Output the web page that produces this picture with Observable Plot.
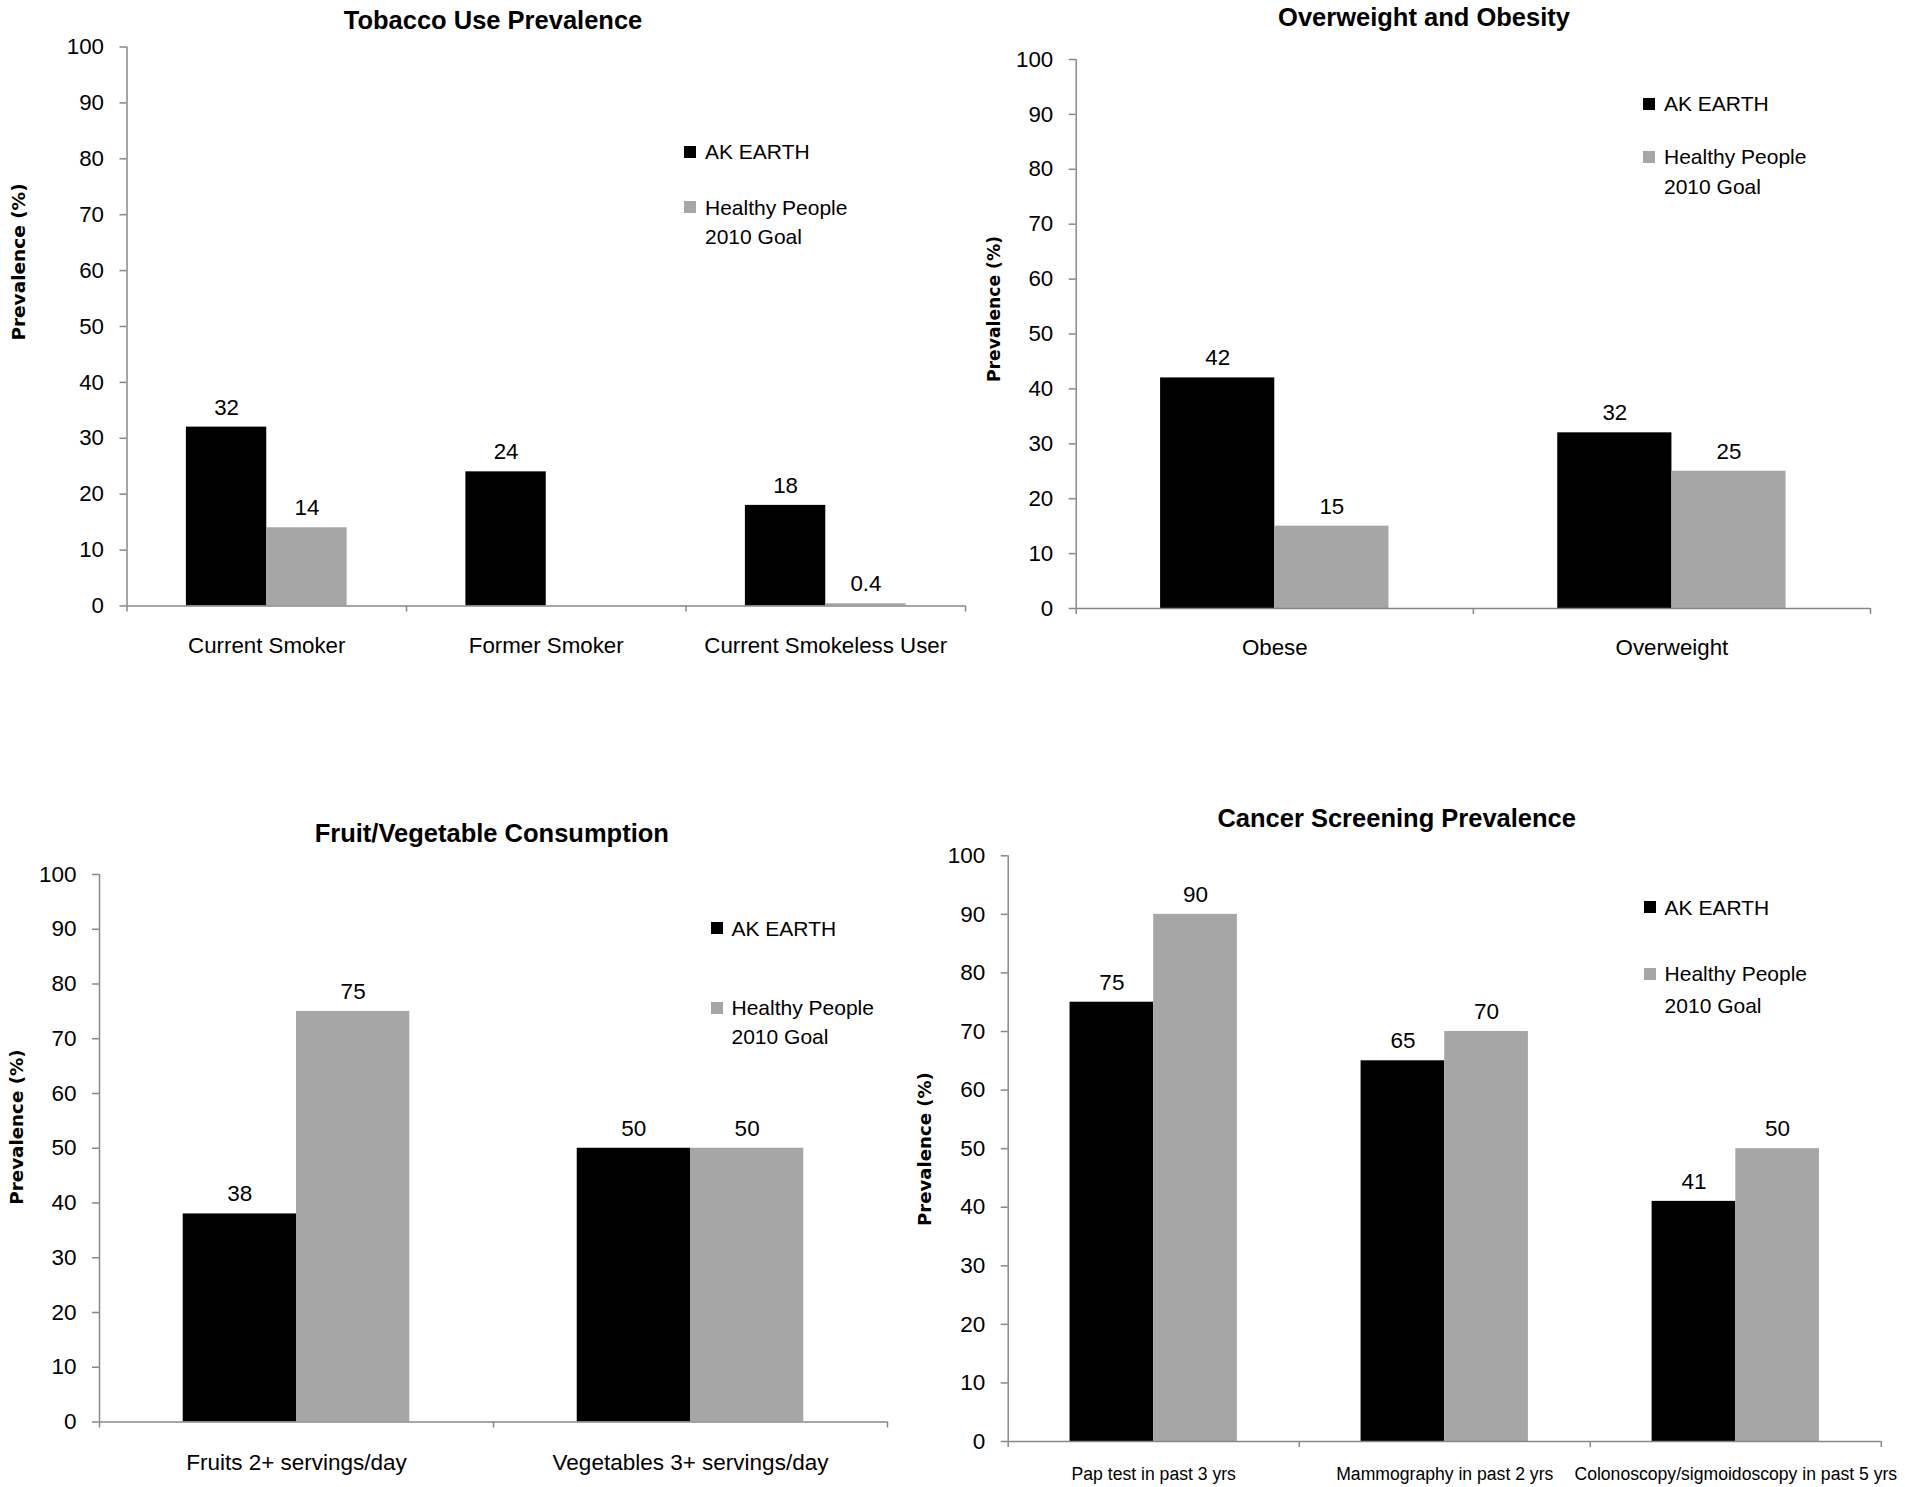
<!DOCTYPE html>
<html><head><meta charset="utf-8">
<script src="https://cdn.jsdelivr.net/npm/d3@7"></script>
<script src="https://cdn.jsdelivr.net/npm/@observablehq/plot@0.6"></script>
<style>
html,body{margin:0;padding:0;background:#fff;}
#root{position:relative;width:1905px;height:1487px;overflow:hidden;font-family:"Liberation Sans",Arial,sans-serif;color:#000;background:#fff;}
.abs{position:absolute;white-space:nowrap;line-height:1;}
.title{font-weight:bold;font-size:25.5px;}
.ylab{font-family:"DejaVu Sans",sans-serif;font-weight:bold;transform:translate(-50%,-50%) rotate(-90deg);}
.leg{font-size:21px;}
.sw{position:absolute;width:12px;height:12px;}
svg{overflow:visible;}
</style></head><body><div id="root"></div>
<script>
// ---- data ----
const seriesNames = ["AK EARTH", "Healthy People 2010 Goal"];
const seriesColors = ["#000000", "#a6a6a6"];
const yTicks = [0, 10, 20, 30, 40, 50, 60, 70, 80, 90, 100];
const yLabel = "Prevalence (%)";

const tobaccoTitle = "Tobacco Use Prevalence";
const tobaccoCategories = ["Current Smoker", "Former Smoker", "Current Smokeless User"];
const tobaccoAkEarth = [32, 24, 18];
const tobaccoGoal = [14, null, 0.4];

const obesityTitle = "Overweight and Obesity";
const obesityCategories = ["Obese", "Overweight"];
const obesityAkEarth = [42, 32];
const obesityGoal = [15, 25];

const fruitTitle = "Fruit/Vegetable Consumption";
const fruitCategories = ["Fruits 2+ servings/day", "Vegetables 3+ servings/day"];
const fruitAkEarth = [38, 50];
const fruitGoal = [75, 50];

const cancerTitle = "Cancer Screening Prevalence";
const cancerCategories = ["Pap test in past 3 yrs", "Mammography in past 2 yrs", "Colonoscopy/sigmoidoscopy in past 5 yrs"];
const cancerAkEarth = [75, 65, 41];
const cancerGoal = [90, 70, 50];

// ---- layout ----
const root = document.getElementById("root");
const axisColor = "#888888";
const GROUP = 0.575; // share of each category band filled by the two bars

function addDiv(cls, text, css) {
  const d = document.createElement("div");
  d.className = "abs " + cls;
  d.textContent = text;
  Object.assign(d.style, css);
  root.appendChild(d);
  return d;
}

function panel(cfg) {
  const {title, cats, ak, goal, left, top, width, height, mL, mR, mT, mB, catPad, catSize, fs,
         titleX, titleBase, ylx, yly, ylSize, legX, legB1, legB2, legB3} = cfg;
  const rows = [];
  cats.forEach((c, i) => {
    rows.push({cat: c, i, s: 0, value: ak[i]});
    if (goal[i] != null) rows.push({cat: c, i, s: 1, value: goal[i]});
  });
  const half = GROUP / 2;
  const bx1 = d => d.i + 0.5 - half + d.s * half;
  const bx2 = d => bx1(d) + half;
  const plot = Plot.plot({
    width, height,
    marginLeft: mL, marginRight: mR, marginTop: mT, marginBottom: mB,
    style: {background: "transparent", overflow: "visible", fontFamily: "'Liberation Sans', Arial, sans-serif", color: "#000", maxWidth: "none"},
    x: {type: "linear", domain: [0, cats.length], axis: null},
    y: {domain: [0, 100], axis: null},
    color: {domain: seriesNames, range: seriesColors},
    marks: [
      Plot.rect(rows, {x1: bx1, x2: bx2, y1: () => 0, y2: "value", fill: d => seriesNames[d.s]}),
      Plot.ruleY([0], {stroke: axisColor, strokeWidth: 1.5}),
      Plot.ruleX([0], {stroke: axisColor, strokeWidth: 1.5}),
      Plot.axisY({ticks: yTicks, tickSize: 7, tickPadding: 16, stroke: axisColor, strokeWidth: 1.5, fill: "#000", fontSize: fs, label: null}),
      Plot.axisX({ticks: d3.range(cats.length + 1), tickSize: 6, tickFormat: () => "", stroke: axisColor, strokeWidth: 1.5, label: null}),
      Plot.axisX({ticks: cats.map((_, i) => i + 0.5), tickFormat: d => cats[Math.floor(d)], tickSize: 0, tickPadding: catPad, fill: "#000", fontSize: catSize, label: null}),
      Plot.text(rows, {x: d => (bx1(d) + bx2(d)) / 2, y: "value", text: d => String(d.value), lineAnchor: "bottom", dy: -12.5, fontSize: fs, fill: "#000"})
    ]
  });
  plot.style.position = "absolute";
  plot.style.left = left + "px";
  plot.style.top = top + "px";
  root.appendChild(plot);

  // title (HTML text, baseline at 0.8465em from top with line-height 1)
  addDiv("title", title, {left: (titleX - 300) + "px", top: (titleBase - 0.8465 * 25.5) + "px", width: "600px", textAlign: "center"});
  // y axis label
  addDiv("ylab", yLabel, {left: ylx + "px", top: yly + "px", fontSize: ylSize + "px"});
  // legend
  const lt = 0.8465 * 21;
  const sq = (color, base) => {
    const s = document.createElement("div");
    s.className = "sw";
    Object.assign(s.style, {left: legX + "px", top: (base - 7.5 - 6) + "px", background: color});
    root.appendChild(s);
  };
  sq(seriesColors[0], legB1);
  addDiv("leg", "AK EARTH", {left: (legX + 21) + "px", top: (legB1 - lt) + "px"});
  sq(seriesColors[1], legB2);
  addDiv("leg", "Healthy People", {left: (legX + 21) + "px", top: (legB2 - lt) + "px"});
  addDiv("leg", "2010 Goal", {left: (legX + 21) + "px", top: (legB3 - lt) + "px"});
}

panel({title: tobaccoTitle, cats: tobaccoCategories, ak: tobaccoAkEarth, goal: tobaccoGoal,
  left: 0, top: 0, width: 980, height: 700, mL: 126.5, mR: 15, mT: 46.5, mB: 94.5,
  catPad: 31, catSize: 22.3, fs: 22.3, titleX: 493, titleBase: 30,
  ylx: 18.5, yly: 262, ylSize: 18.5, legX: 684, legB1: 159, legB2: 214.5, legB3: 243.5});

panel({title: obesityTitle, cats: obesityCategories, ak: obesityAkEarth, goal: obesityGoal,
  left: 960, top: 0, width: 945, height: 700, mL: 115.7, mR: 35, mT: 59, mB: 92,
  catPad: 30.5, catSize: 22.3, fs: 22.3, titleX: 1424, titleBase: 27,
  ylx: 995, yly: 309, ylSize: 17.2, legX: 1643, legB1: 111, legB2: 164, legB3: 193.5});

panel({title: fruitTitle, cats: fruitCategories, ak: fruitAkEarth, goal: fruitGoal,
  left: 0, top: 790, width: 920, height: 697, mL: 99, mR: 33, mT: 84, mB: 65.5,
  catPad: 32, catSize: 22.5, fs: 22.5, titleX: 491.8, titleBase: 843,
  ylx: 17, yly: 1127, ylSize: 18.3, legX: 710.5, legB1: 935.5, legB2: 1015, legB3: 1044});

panel({title: cancerTitle, cats: cancerCategories, ak: cancerAkEarth, goal: cancerGoal,
  left: 900, top: 790, width: 1005, height: 697, mL: 107.7, mR: 24.2, mT: 65.3, mB: 46,
  catPad: 26, catSize: 17.6, fs: 22.5, titleX: 1396.7, titleBase: 827.3,
  ylx: 924.5, yly: 1149, ylSize: 18.1, legX: 1643.6, legB1: 914.5, legB2: 981, legB3: 1012.5});
</script>
</body></html>
